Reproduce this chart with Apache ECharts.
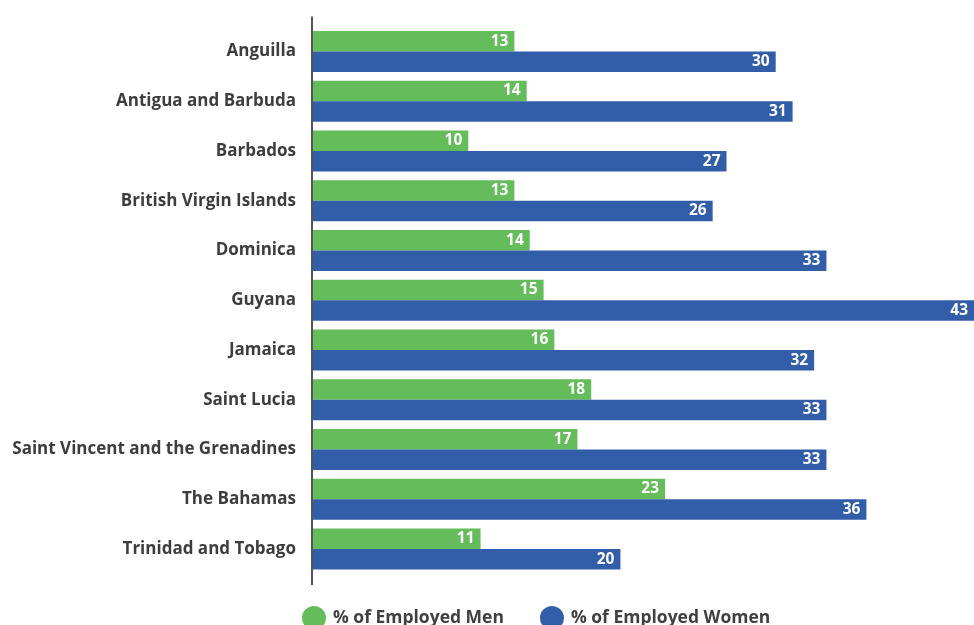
<!DOCTYPE html>
<html>
<head>
<meta charset="utf-8">
<style>
  html, body { margin: 0; padding: 0; background: #fff; }
  #chart { width: 974px; height: 625px; }
</style>
<script src="https://cdn.jsdelivr.net/npm/echarts@6/dist/echarts.min.js"></script>
</head>
<body>
<div id="chart"></div>
<script>
// categories, top to bottom
const countries = [
  'Anguilla', 'Antigua and Barbuda', 'Barbados', 'British Virgin Islands',
  'Dominica', 'Guyana', 'Jamaica', 'Saint Lucia',
  'Saint Vincent and the Grenadines', 'The Bahamas', 'Trinidad and Tobago'
]
// values
const employedMen = [13.1, 13.9, 10.1, 13.1, 14.1, 15.0, 15.7, 18.1, 17.2, 22.9, 10.9]
const employedWomen = [30.1, 31.2, 26.9, 26.0, 33.4, 43.0, 32.6, 33.4, 33.4, 36.0, 20.0]
// the numbers printed on the bars
const menLabels = [13, 14, 10, 13, 14, 15, 16, 18, 17, 23, 11]
const womenLabels = [30, 31, 27, 26, 33, 43, 32, 33, 33, 36, 20]
const seriesNames = ['% of Employed Men', '% of Employed Women']

const GREEN = '#65bc5a'
const BLUE = '#325ea9'
const FONT = '"Open Sans", "Noto Sans", sans-serif'

const chart = echarts.init(document.getElementById('chart'))

function barLabel(texts) {
  return {
    show: true,
    position: 'insideRight',
    distance: 6,
    color: '#fff',
    fontFamily: FONT,
    fontWeight: 'bold',
    fontSize: 15.5,
    formatter: p => texts[p.dataIndex]
  }
}

chart.setOption({
  animation: false,
  grid: { left: 313, right: 0, top: 26.6, bottom: 51.1 },
  xAxis: {
    type: 'value', min: 0, max: 43,
    show: false
  },
  yAxis: {
    type: 'category',
    data: countries,
    inverse: true,
    axisLine: { show: false },
    axisTick: { show: false },
    axisLabel: {
      margin: 17,
      color: '#3d3d3d',
      fontFamily: FONT,
      fontWeight: 'bold',
      fontSize: 17
    }
  },
  legend: {
    left: 302, top: 606,
    padding: 0,
    icon: 'circle',
    itemWidth: 24, itemHeight: 24,
    itemGap: 36,
    textStyle: { color: '#404040', fontFamily: FONT, fontWeight: 'bold', fontSize: 17.5, padding: [0, 0, 0, 2] },
    data: seriesNames
  },
  series: [
    {
      name: seriesNames[0], type: 'bar', data: employedMen,
      barWidth: 20.5, barGap: '0%',
      itemStyle: { color: GREEN },
      label: barLabel(menLabels)
    },
    {
      name: seriesNames[1], type: 'bar', data: employedWomen,
      barWidth: 20.5, barGap: '0%',
      itemStyle: { color: BLUE },
      label: barLabel(womenLabels)
    }
  ]
})

// the vertical axis line runs a little past the plot area at both ends
const x0 = chart.convertToPixel({ xAxisIndex: 0 }, 0)
const rect = chart.getModel().getComponent('grid').coordinateSystem.getRect()
chart.setOption({
  graphic: [{
    type: 'line', z: 10,
    shape: { x1: x0 - 1, y1: rect.y - 10, x2: x0 - 1, y2: rect.y + rect.height + 11 },
    style: { stroke: '#555', lineWidth: 2 }
  }]
})
</script>
</body>
</html>
